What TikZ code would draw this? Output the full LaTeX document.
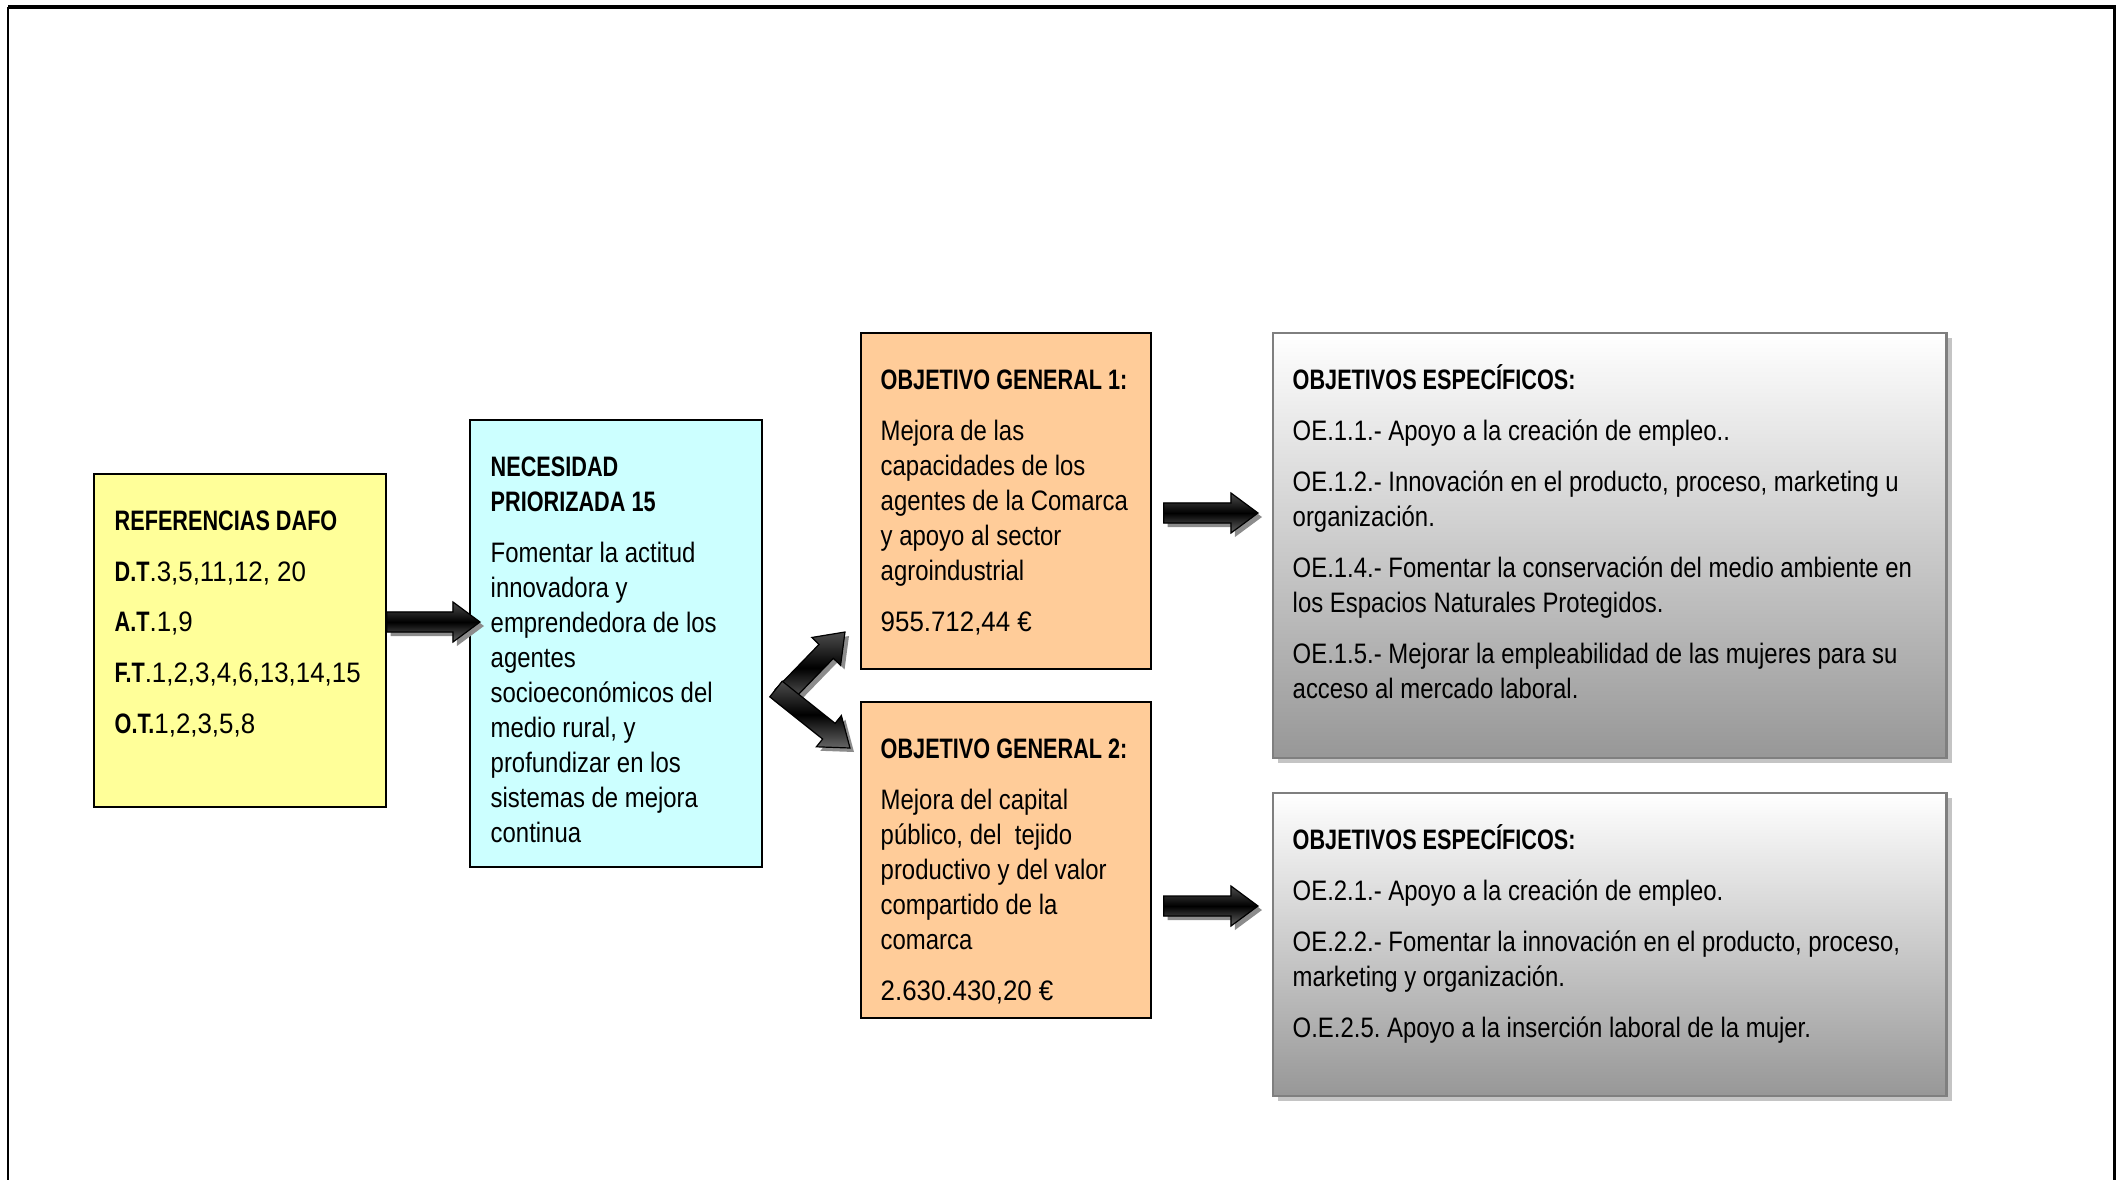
\documentclass[tikz,border=0pt]{standalone}
\usepackage{fontspec}
\setmainfont{Liberation Sans}[FakeStretch=0.85]
\newfontfamily\headfont{Liberation Sans}[FakeStretch=0.77]
\newfontfamily\numfont{Liberation Sans}[FakeStretch=0.92]
\usetikzlibrary{calc,shadows}
\definecolor{dafofill}{HTML}{FFFF99}
\definecolor{necfill}{HTML}{CCFFFF}
\definecolor{ogfill}{HTML}{FFCC99}
\definecolor{oeedge}{HTML}{7F7F7F}
\definecolor{oebottom}{HTML}{979797}
\definecolor{oeshadow}{HTML}{C4C4C4}
\definecolor{arrowshadow}{HTML}{8C8C8C}
\frenchspacing

\newcommand\headtxt[1]{{\headfont\bfseries #1}}
\newcommand\numtxt[1]{{\numfont #1}}
% block arrow from #1 to its tip #2, #3 names the head base
\newcommand\blockarrow[3]{%
  \coordinate (#3) at ($(#2)!0.27cm!(#1)$);
  \filldraw[arrowbody] ($(#1)!0.1cm!90:(#2)$) -- ($(#3)!0.1cm!90:(#2)$)
    -- ($(#3)!0.2cm!90:(#2)$) -- (#2) -- ($(#3)!0.2cm!-90:(#2)$)
    -- ($(#3)!0.1cm!-90:(#2)$) -- ($(#1)!0.1cm!-90:(#2)$) -- cycle;}

\begin{document}
\begin{tikzpicture}[
  x=0.01cm,
  y=-0.01cm,
  every node/.style={font=\fontsize{8}{9.96}\selectfont},
  box/.style={draw=black, line width=0.015cm, anchor=north west, inner sep=0pt},
  dafobox/.style={box, fill=dafofill},
  necbox/.style={box, fill=necfill},
  ogbox/.style={box, fill=ogfill},
  oebox/.style={box, draw=oeedge, line width=0.022cm, top color=white,
                bottom color=oebottom,
                drop shadow={shadow xshift=0.05cm, shadow yshift=-0.05cm,
                             fill=oeshadow, opacity=1}},
  txt/.style={anchor=north west, inner sep=0pt, align=left},
  arrowbody/.style={draw=black, line width=0.012cm, top color=black!70,
                    bottom color=black!60, middle color=black,
                    drop shadow={shadow xshift=0.04cm, shadow yshift=-0.04cm,
                                 fill=arrowshadow, opacity=1}}
]
  % ---- page size and frame ----
  \path (0,0) rectangle (2117,1180);
  \draw[line width=0.03cm] (8,7) -- (2114,7) -- (2114,1180);
  \draw[line width=0.016cm] (8,7) -- (8,1180);

  % ---- boxes ----
  \node[dafobox, minimum width=2.92cm, minimum height=3.33cm] (dafo) at (93,473) {};
  \node[necbox, minimum width=2.92cm, minimum height=4.47cm] (nec) at (469,419) {};
  \node[ogbox, minimum width=2.90cm, minimum height=3.36cm] (og1) at (860,332) {};
  \node[ogbox, minimum width=2.90cm, minimum height=3.16cm] (og2) at (860,701) {};
  \node[oebox, minimum width=6.73cm, minimum height=4.25cm] (oe1) at (1272,332) {};
  \node[oebox, minimum width=6.73cm, minimum height=3.03cm] (oe2) at (1272,792) {};

  % ---- texts ----
  \node[txt] (dafo-t) at ([shift={(0.21cm,-0.32cm)}]dafo.north west)
    {\strut\headtxt{REFERENCIAS DAFO}\\[4.5pt]
     \headtxt{D.T}\numtxt{.3,5,11,12, 20}\\[4.5pt]
     \headtxt{A.T}\numtxt{.1,9}\\[4.5pt]
     \headtxt{F.T}\numtxt{.1,2,3,4,6,13,14,15}\\[4.5pt]
     \headtxt{O.T.}\numtxt{1,2,3,5,8}};
  \node[txt] (nec-t) at ([shift={(0.21cm,-0.32cm)}]nec.north west)
    {\strut\headtxt{NECESIDAD}\\
     \headtxt{PRIORIZADA 15}\\[4.5pt]
     Fomentar la actitud\\
     innovadora y\\
     emprendedora de los\\
     agentes\\
     socioeconómicos del\\
     medio rural, y\\
     profundizar en los\\
     sistemas de mejora\\
     continua};
  \node[txt] (og1-t) at ([shift={(0.2cm,-0.32cm)}]og1.north west)
    {\strut\headtxt{OBJETIVO GENERAL 1:}\\[4.5pt]
     Mejora de las\\
     capacidades de los\\
     agentes de la Comarca\\
     y apoyo al sector\\
     agroindustrial\\[4.5pt]
     \numtxt{955.712,44 €}};
  \node[txt] (og2-t) at ([shift={(0.2cm,-0.32cm)}]og2.north west)
    {\strut\headtxt{OBJETIVO GENERAL 2:}\\[4.5pt]
     Mejora del capital\\
     público, del\ \ tejido\\
     productivo y del valor\\
     compartido de la\\
     comarca\\[4.5pt]
     \numtxt{2.630.430,20 €}};
  \node[txt] (oe1-t) at ([shift={(0.2cm,-0.32cm)}]oe1.north west)
    {\strut\headtxt{OBJETIVOS ESPECÍFICOS:}\\[4.5pt]
     OE.1.1.- Apoyo a la creación de empleo..\\[4.5pt]
     OE.1.2.- Innovación en el producto, proceso, marketing u\\
     organización.\\[4.5pt]
     OE.1.4.- Fomentar la conservación del medio ambiente en\\
     los Espacios Naturales Protegidos.\\[4.5pt]
     OE.1.5.- Mejorar la empleabilidad de las mujeres para su\\
     acceso al mercado laboral.};
  \node[txt] (oe2-t) at ([shift={(0.2cm,-0.32cm)}]oe2.north west)
    {\strut\headtxt{OBJETIVOS ESPECÍFICOS:}\\[4.5pt]
     OE.2.1.- Apoyo a la creación de empleo.\\[4.5pt]
     OE.2.2.- Fomentar la innovación en el producto, proceso,\\
     marketing y organización.\\[4.5pt]
     O.E.2.5. Apoyo a la inserción laboral de la mujer.};

  % ---- arrow ends ----
  \coordinate (nec-in) at (480,622);
  \coordinate (oe1-in) at (1258,513);
  \coordinate (oe2-in) at (1258,906);
  \coordinate (fork) at (776,689);
  \coordinate (fork-up) at (782,697);
  \coordinate (og1-in) at (845,632);
  \coordinate (og2-in) at (850,748);

  % ---- block arrows ----
  \blockarrow{dafo.east |- nec-in}{nec-in}{nec-head}
  \blockarrow{fork-up}{og1-in}{og1-head}
  \blockarrow{fork}{og2-in}{og2-head}
  \blockarrow{[xshift=0.12cm]og1.east |- oe1-in}{oe1-in}{oe1-head}
  \blockarrow{[xshift=0.12cm]og2.east |- oe2-in}{oe2-in}{oe2-head}
\end{tikzpicture}
\end{document}
